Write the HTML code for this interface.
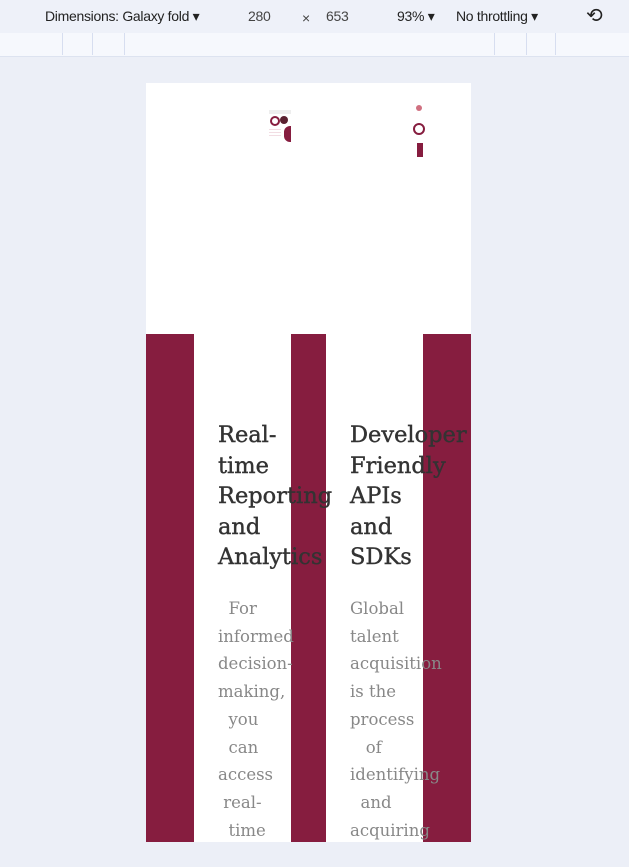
<!DOCTYPE html>
<html><head><style>
body{margin:0;width:629px;height:867px;background:#eceff7;position:relative;overflow:hidden;font-family:"Liberation Sans",sans-serif}
.a{position:absolute}
.tb{left:0;top:0;width:629px;height:33px;background:#eef1f9;font-size:14px;color:#222;letter-spacing:-0.3px}
.rl{left:0;top:33px;width:629px;height:23px;background:#f6f8fd;border-bottom:1px solid #dde3f0}
.v{top:33px;width:1px;height:22px;background:#d7def0}
.pg{left:146px;top:83px;width:325px;height:759px;background:#fff;overflow:hidden}
.m{background:#861d3f;top:251px;height:508px}
.h{font-family:"DejaVu Serif",serif;font-size:22.5px;color:#333;line-height:30.5px;white-space:pre;-webkit-text-stroke:0.4px #333}
.b{font-family:"DejaVu Serif",serif;font-size:16.5px;color:#888;line-height:27.7px;white-space:pre}
</style></head><body>
<div class="a tb">
<span class="a" style="left:45px;top:8px">Dimensions: Galaxy fold ▾</span>
<span class="a" style="left:248px;top:8px;color:#444">280</span>
<span class="a" style="left:302px;top:10px;color:#444">×</span>
<span class="a" style="left:326px;top:8px;color:#444">653</span>
<span class="a" style="left:397px;top:8px">93% ▾</span>
<span class="a" style="left:456px;top:8px">No throttling ▾</span>
<span class="a" style="left:586px;top:3px;font-size:20px">⟲</span>
</div>
<div class="a rl"></div>
<div class="a v" style="left:62px"></div><div class="a v" style="left:92px"></div><div class="a v" style="left:124px"></div>
<div class="a v" style="left:494px"></div><div class="a v" style="left:526px"></div><div class="a v" style="left:555px"></div>
<div class="a pg">
<div class="a m" style="left:0;width:48px"></div>
<div class="a m" style="left:145px;width:35px"></div>
<div class="a m" style="left:277px;width:48px"></div>
<div class="a" style="left:123px;top:27px;width:22px;height:4px;background:#eee"></div>
<div class="a" style="left:124px;top:33px;width:6px;height:6px;border:2px solid #861d3f;border-radius:50%"></div>
<div class="a" style="left:134px;top:33px;width:8px;height:8px;background:#5a2030;border-radius:50%"></div>
<div class="a" style="left:138px;top:43px;width:7px;height:16px;background:#861d3f;border-radius:6px 0 0 6px"></div>
<div class="a" style="left:123px;top:46px;width:12px;height:8px;background:repeating-linear-gradient(#f2dde3 0 1px,#fff 1px 3px)"></div>
<div class="a" style="left:270px;top:22px;width:6px;height:6px;background:#d07080;border-radius:50%"></div>
<div class="a" style="left:267px;top:40px;width:8px;height:8px;border:2px solid #861d3f;border-radius:50%"></div>
<div class="a" style="left:271px;top:60px;width:6px;height:14px;background:#861d3f"></div>
<div class="a h" style="left:72px;top:337px">Real-
time
Reporting
and
Analytics</div>
<div class="a h" style="left:204px;top:337px">Developer
Friendly
APIs
and
SDKs</div>
<div class="a b" style="left:72px;top:512px">  For
informed
decision-
making,
  you
  can
access
 real-
  time</div>
<div class="a b" style="left:204px;top:512px">Global
talent
acquisition
is the
process
   of
identifying
  and
acquiring</div>
</div>
</body></html>
